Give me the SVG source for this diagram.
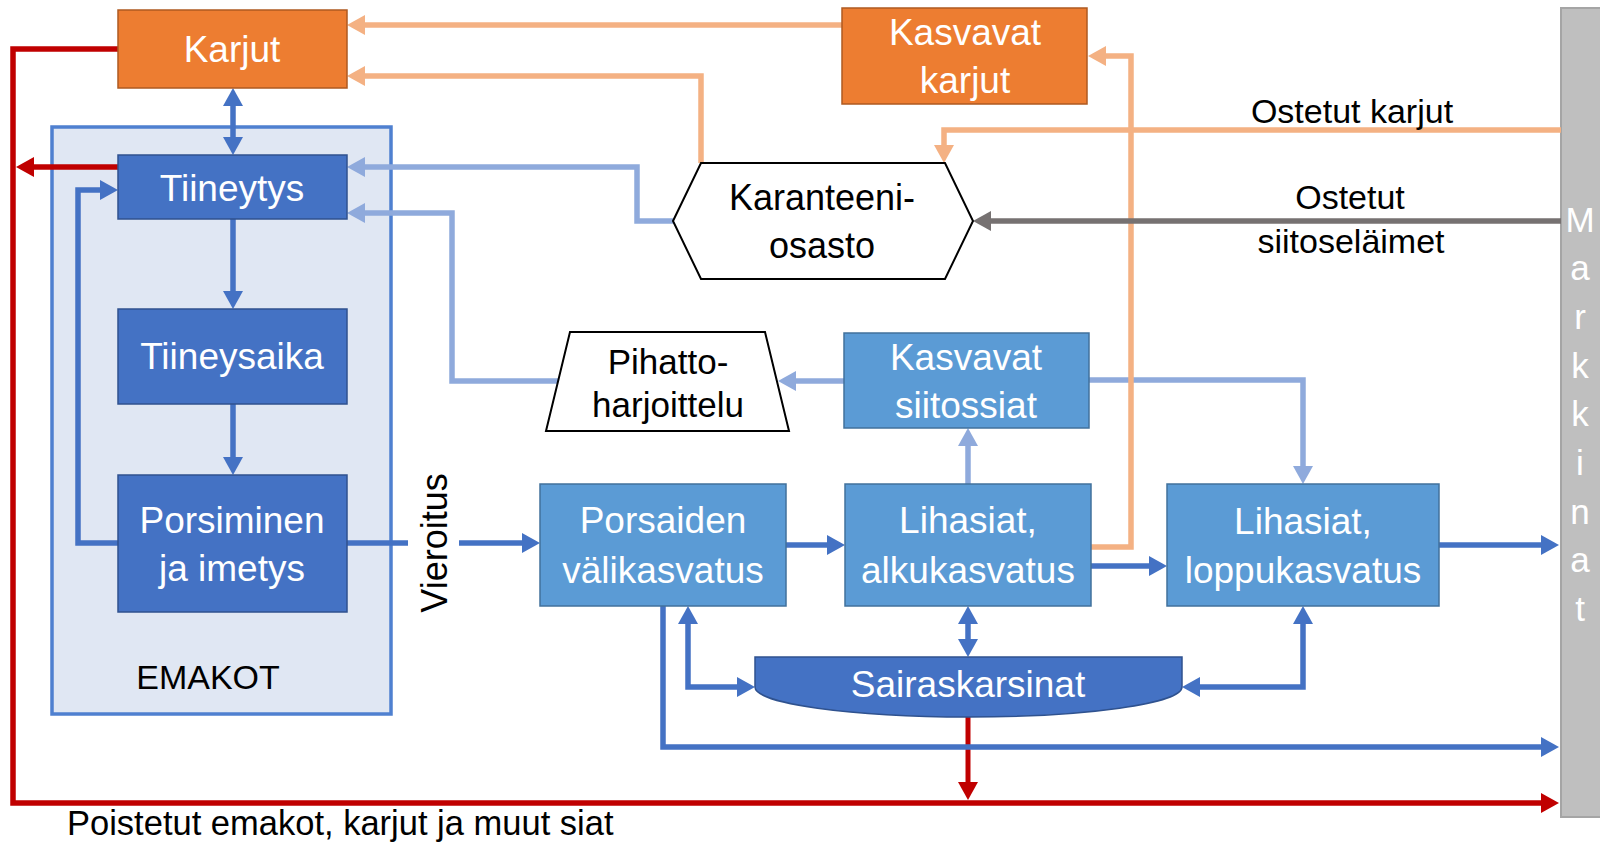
<svg xmlns="http://www.w3.org/2000/svg" width="1600" height="848" viewBox="0 0 1600 848">
<style>
text{font-family:"Liberation Sans",Arial,sans-serif}
.w{fill:#fff;font-size:37px;text-anchor:middle}
.b{fill:#000;font-size:36px;text-anchor:middle}
.lbl{fill:#000;font-size:34px;text-anchor:middle}
.mk{fill:#fff;font-size:35px;text-anchor:middle}
.orange{fill:#ED7D31;stroke:#AE5A21;stroke-width:1.5}
.dblue{fill:#4472C4;stroke:#2F528F;stroke-width:1.5}
.mblue{fill:#5B9BD5;stroke:#41719C;stroke-width:1.5}
.c{fill:none;stroke-width:5.5;stroke-linejoin:miter}
.red{stroke:#C00000;marker-end:url(#aR)}
.blu{stroke:#4472C4;marker-end:url(#aB)}
.blu2{stroke:#4472C4;marker-end:url(#aB);marker-start:url(#aB)}
.lb{stroke:#8FAADC;marker-end:url(#aL)}
.or{stroke:#F4B183;marker-end:url(#aO)}
.gr{stroke:#767171;marker-end:url(#aG)}
</style>
<defs>
<marker id="aR" markerUnits="userSpaceOnUse" markerWidth="18" markerHeight="20" refX="10" refY="10" orient="auto-start-reverse"><path d="M0,0 L18,10 L0,20 z" fill="#C00000"/></marker>
<marker id="aB" markerUnits="userSpaceOnUse" markerWidth="18" markerHeight="20" refX="10" refY="10" orient="auto-start-reverse"><path d="M0,0 L18,10 L0,20 z" fill="#4472C4"/></marker>
<marker id="aL" markerUnits="userSpaceOnUse" markerWidth="18" markerHeight="20" refX="10" refY="10" orient="auto-start-reverse"><path d="M0,0 L18,10 L0,20 z" fill="#8FAADC"/></marker>
<marker id="aO" markerUnits="userSpaceOnUse" markerWidth="18" markerHeight="20" refX="10" refY="10" orient="auto-start-reverse"><path d="M0,0 L18,10 L0,20 z" fill="#F4B183"/></marker>
<marker id="aG" markerUnits="userSpaceOnUse" markerWidth="18" markerHeight="20" refX="10" refY="10" orient="auto-start-reverse"><path d="M0,0 L18,10 L0,20 z" fill="#767171"/></marker>
</defs>
<rect width="1600" height="848" fill="#fff"/>

<g id="emakot">
<rect x="52" y="127" width="339" height="587" fill="#E0E7F3" stroke="#4F80D0" stroke-width="3.5"/>
<text x="208" y="689" class="lbl">EMAKOT</text>
</g>

<g id="markkinat">
<rect x="1561" y="8" width="42" height="809" fill="#BFBFBF" stroke="#A5A5A5" stroke-width="2"/>
<text class="mk" x="1580" y="232">M</text>
<text class="mk" x="1580" y="280">a</text>
<text class="mk" x="1580" y="329">r</text>
<text class="mk" x="1580" y="378">k</text>
<text class="mk" x="1580" y="426">k</text>
<text class="mk" x="1580" y="475">i</text>
<text class="mk" x="1580" y="524">n</text>
<text class="mk" x="1580" y="572">a</text>
<text class="mk" x="1580" y="621">t</text>
</g>

<g id="connectors">
<path class="c red" d="M118,49 H13 V803 H1551"/>
<path class="c red" d="M118,167 H24"/>
<path class="c red" style="stroke-width:5" d="M968,717 V792"/>
<path class="c blu2" d="M233,96 V147"/>
<path class="c blu" d="M233,219 V301"/>
<path class="c blu" d="M233,404 V467"/>
<path class="c blu" d="M118,543 H78 V190 H110"/>
<path class="c" stroke="#4472C4" d="M347,543 H408"/>
<path class="c blu" d="M459,543 H532"/>
<path class="c blu" d="M786,545 H837"/>
<path class="c blu" d="M1091,566 H1159"/>
<path class="c blu" d="M1439,545 H1551"/>
<path class="c blu" d="M663,606 V747 H1551"/>
<path class="c blu2" d="M688,614 V687 H747"/>
<path class="c blu2" d="M968,614 V649"/>
<path class="c blu2" d="M1303,614 V687 H1190"/>
<path class="c lb" d="M968,484 V436"/>
<path class="c lb" d="M844,381 H786"/>
<path class="c lb" d="M1089,380 H1303 V476"/>
<path class="c lb" d="M559,381 H452 V213 H355"/>
<path class="c lb" d="M673,221 H637 V167 H355"/>
<path class="c or" d="M701,163 V76 H355"/>
<path class="c or" d="M842,25 H355"/>
<path class="c or" d="M1091,547 H1131 V56 H1096"/>
<path class="c or" d="M1561,130 H944 V155"/>
<path class="c gr" d="M1561,221 H981"/>
</g>

<g id="karjut">
<rect class="orange" x="118" y="10" width="229" height="78"/>
<text class="w" x="232" y="62">Karjut</text>
</g>
<g id="kasvavat-karjut">
<rect class="orange" x="842" y="8" width="245" height="96"/>
<text class="w" x="965" y="45">Kasvavat</text>
<text class="w" x="965" y="93">karjut</text>
</g>
<g id="tiineytys">
<rect class="dblue" x="118" y="155" width="229" height="64"/>
<text class="w" x="232" y="201">Tiineytys</text>
</g>
<g id="tiineysaika">
<rect class="dblue" x="118" y="309" width="229" height="95"/>
<text class="w" x="232" y="369">Tiineysaika</text>
</g>
<g id="porsiminen">
<rect class="dblue" x="118" y="475" width="229" height="137"/>
<text class="w" x="232" y="533">Porsiminen</text>
<text class="w" x="232" y="581">ja imetys</text>
</g>
<g id="vieroitus">
<text class="b" transform="translate(447,543) rotate(-90)">Vieroitus</text>
</g>
<g id="karanteeni">
<polygon points="673,221 701,163 945,163 973,221 945,279 701,279" fill="#fff" stroke="#000" stroke-width="2"/>
<text class="b" x="822" y="210">Karanteeni-</text>
<text class="b" x="822" y="258">osasto</text>
</g>
<g id="pihatto">
<polygon points="570,332 765,332 789,431 546,431" fill="#fff" stroke="#000" stroke-width="2"/>
<text class="b" style="font-size:35px" x="668" y="374">Pihatto-</text>
<text class="b" style="font-size:35px" x="668" y="417">harjoittelu</text>
</g>
<g id="kasvavat-siitossiat">
<rect class="mblue" x="844" y="333" width="245" height="95"/>
<text class="w" x="966" y="370">Kasvavat</text>
<text class="w" x="966" y="418">siitossiat</text>
</g>
<g id="porsaiden">
<rect class="mblue" x="540" y="484" width="246" height="122"/>
<text class="w" x="663" y="533">Porsaiden</text>
<text class="w" x="663" y="583">välikasvatus</text>
</g>
<g id="alkukasvatus">
<rect class="mblue" x="845" y="484" width="246" height="122"/>
<text class="w" x="968" y="533">Lihasiat,</text>
<text class="w" x="968" y="583">alkukasvatus</text>
</g>
<g id="loppukasvatus">
<rect class="mblue" x="1167" y="484" width="272" height="122"/>
<text class="w" x="1303" y="534">Lihasiat,</text>
<text class="w" x="1303" y="583">loppukasvatus</text>
</g>
<g id="sairaskarsinat">
<path d="M755,657 H1182 V687 A213.5,30 0 0 1 755,687 Z" fill="#4472C4" stroke="#2F528F" stroke-width="1.5"/>
<text class="w" x="968" y="697">Sairaskarsinat</text>
</g>

<g id="labels">
<text class="lbl" x="1352" y="123">Ostetut karjut</text>
<text class="lbl" x="1350" y="209">Ostetut</text>
<text class="lbl" x="1351" y="253">siitoseläimet</text>
<text class="lbl" x="67" y="835" style="text-anchor:start;font-size:34.5px">Poistetut emakot, karjut ja muut siat</text>
</g>
</svg>
